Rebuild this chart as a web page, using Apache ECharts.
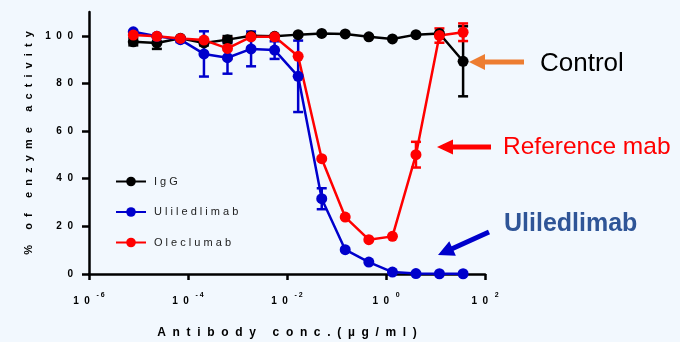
<!DOCTYPE html>
<html>
<head>
<meta charset="utf-8">
<script type="text/javascript" src="https://cdn.jsdelivr.net/npm/echarts/dist/echarts.min.js"></script>
<style>
html, body { margin: 0; padding: 0; background: #F2F8FE; }
</style>
</head>
<body>
<div id="container" style="width:680px; height:342px;"></div>

<script type="text/javascript">
// antibody concentration (ug/ml), 3-fold dilution series
var conc = [0.00000785, 0.0000235, 0.0000703, 0.00021, 0.000628, 0.00188, 0.00562,
	0.0168, 0.0503, 0.150, 0.450, 1.35, 4.03, 12.0, 36.1];

var igg = [97.5, 97, 99, 97, 98.4, 100, 99.8, 100.5, 101, 100.8, 99.6, 98.7, 100.5, 101, 89.3];
var iggErr = [1.5, 2.5, 0, 1, 1.5, 0, 0, 0, 0, 0, 0, 0, 0, 0, 14.7];

var uli = [101.7, 99.8, 98.4, 92.4, 90.8, 94.5, 94, 83, 31.6, 10.2, 5, 0.8, 0.2, 0.1, 0.1];
var uliErr = [0, 0, 1, 9.5, 6.7, 7.3, 3.7, 15, 4.4, 0, 0, 0, 0, 0, 0];

var olec = [100.3, 99.8, 98.9, 98.2, 94.7, 99.6, 99.6, 91.4, 48.4, 23.9, 14.4, 15.8, 50.1, 100.1, 101.5];
var olecErr = [0, 0, 0, 0, 4.4, 0, 0, 0, 0, 0, 0, 0, 5.4, 3, 3.7];

var seriesNames = ['IgG', 'Uliledlimab', 'Oleclumab'];
var yTicks = [0, 20, 40, 60, 80, 100];
var xTicks = [1e-6, 1e-4, 1e-2, 1, 100];

var dom = document.getElementById("container");
var myChart = echarts.init(dom);

function spaced(s, gap) {
	return s.split('').join(gap);
}

function pairs(ys, errs) {
	return conc.map(function (c, i) { return [c, ys[i], errs ? errs[i] : 0]; });
}

function errorSeries(ys, errs, color) {
	return {
		type: 'custom',
		data: pairs(ys, errs),
		encode: { x: 0, y: 1 },
		z: 2,
		silent: true,
		renderItem: function (params, api) {
			var x = api.value(0), y = api.value(1), e = api.value(2);
			if (!e) return;
			var top = api.coord([x, y + e]);
			var bot = api.coord([x, y - e]);
			var w = 5;
			var st = { stroke: color, lineWidth: 2.5 };
			return {
				type: 'group',
				children: [
					{ type: 'line', shape: { x1: top[0], y1: top[1], x2: bot[0], y2: bot[1] }, style: st },
					{ type: 'line', shape: { x1: top[0] - w, y1: top[1], x2: top[0] + w, y2: top[1] }, style: st },
					{ type: 'line', shape: { x1: bot[0] - w, y1: bot[1], x2: bot[0] + w, y2: bot[1] }, style: st }
				]
			};
		}
	};
}

function lineSeries(name, ys, color) {
	return {
		name: name,
		type: 'line',
		data: pairs(ys),
		symbol: 'circle',
		symbolSize: 11,
		z: 3,
		itemStyle: { color: color },
		lineStyle: { color: color, width: 2.5 }
	};
}

// arrow polygon from tail to tip
function arrow(tail, tip, shaftW, headW, headL, color) {
	var dx = tip[0] - tail[0], dy = tip[1] - tail[1];
	var len = Math.sqrt(dx * dx + dy * dy);
	var ux = dx / len, uy = dy / len, nx = -uy, ny = ux;
	var bx = tip[0] - ux * headL, by = tip[1] - uy * headL;
	var pts = [
		[tail[0] + nx * shaftW / 2, tail[1] + ny * shaftW / 2],
		[bx + nx * shaftW / 2, by + ny * shaftW / 2],
		[bx + nx * headW / 2, by + ny * headW / 2],
		tip,
		[bx - nx * headW / 2, by - ny * headW / 2],
		[bx - nx * shaftW / 2, by - ny * shaftW / 2],
		[tail[0] - nx * shaftW / 2, tail[1] - ny * shaftW / 2]
	];
	return { type: 'polygon', shape: { points: pts }, style: { fill: color }, z: 10 };
}

function note(text, x, y, color, size, weight) {
	return {
		type: 'text', x: x, y: y, z: 10,
		style: {
			text: text, fill: color, fontSize: size, fontWeight: weight || 'normal',
			fontFamily: 'Liberation Sans, Arial, sans-serif', verticalAlign: 'middle'
		}
	};
}

var option = {
	backgroundColor: '#F2F8FE',
	animation: false,
	textStyle: { fontFamily: 'Liberation Sans, Arial, sans-serif' },
	grid: { left: 89, right: 195, top: 12, bottom: 68, containLabel: false, outerBoundsMode: 'none' },
	legend: {
		data: seriesNames,
		orient: 'vertical',
		left: 110,
		top: 171,
		itemWidth: 30,
		itemHeight: 12,
		itemGap: 19.5,
		formatter: function (n) { return spaced(n, ' '); },
		textStyle: { fontSize: 11, color: '#222', padding: [0, 0, 0, 3] }
	},
	xAxis: {
		type: 'log',
		logBase: 10,
		min: 1e-6,
		max: 100,
		name: spaced('Antibody', '  ') + '     ' + spaced('conc.(µg/ml)', '  '),
		nameLocation: 'middle',
		nameGap: 53,
		nameTextStyle: { fontSize: 12, fontWeight: 'bold', color: '#000' },
		axisLine: { lineStyle: { color: '#000', width: 2.5 } },
		axisTick: { customValues: xTicks, length: 6, lineStyle: { color: '#000', width: 2.5 } },
		axisLabel: {
			customValues: xTicks,
			margin: 18,
			formatter: function (v) {
				var e = Math.round(Math.log10(v));
				var ex = e < 0 ? '- ' + (-e) : String(e);
				return '{b|1  0}  {s|' + ex + '}';
			},
			rich: {
				b: { fontSize: 10, fontWeight: 'bold', color: '#000', lineHeight: 14, verticalAlign: 'bottom' },
				s: { fontSize: 7, fontWeight: 'bold', color: '#000', lineHeight: 14, verticalAlign: 'top', padding: [0, 0, 6, 0] }
			}
		},
		splitLine: { show: false },
		minorTick: { show: false }
	},
	yAxis: {
		type: 'value',
		min: 0,
		max: 110,
		interval: 20,
		name: spaced('% of enzyme activity', '  '),
		nameLocation: 'middle',
		nameGap: 53,
		nameTextStyle: { fontSize: 11, fontWeight: 'bold', color: '#000' },
		axisLine: { show: true, lineStyle: { color: '#000', width: 2.5 } },
		axisTick: { show: true, customValues: yTicks, length: 7, lineStyle: { color: '#000', width: 2.5 } },
		axisLabel: {
			customValues: yTicks,
			margin: 16,
			fontSize: 10,
			fontWeight: 'bold',
			color: '#000',
			formatter: function (v) { return spaced(String(v), '  '); }
		},
		splitLine: { show: false }
	},
	series: [
		errorSeries(igg, iggErr, '#000000'),
		errorSeries(uli, uliErr, '#0000CC'),
		errorSeries(olec, olecErr, '#FF0000'),
		lineSeries(seriesNames[0], igg, '#000000'),
		lineSeries(seriesNames[1], uli, '#0000CC'),
		lineSeries(seriesNames[2], olec, '#FF0000')
	],
	graphic: [
		arrow([524, 62], [469, 62], 5, 16, 16, '#ED7D31'),
		arrow([491, 147], [437, 147], 5, 15, 16, '#FF0000'),
		arrow([489, 232], [438, 255], 5, 16, 16, '#0000CC'),
		note('Control', 540, 64, '#000000', 26),
		note('Reference mab', 503, 147, '#FF0000', 24.5),
		note('Uliledlimab', 504, 224, '#2F5597', 25, 'bold')
	]
};

if (option && typeof option === "object") {
	myChart.setOption(option, true);
}
</script>
</body>
</html>
